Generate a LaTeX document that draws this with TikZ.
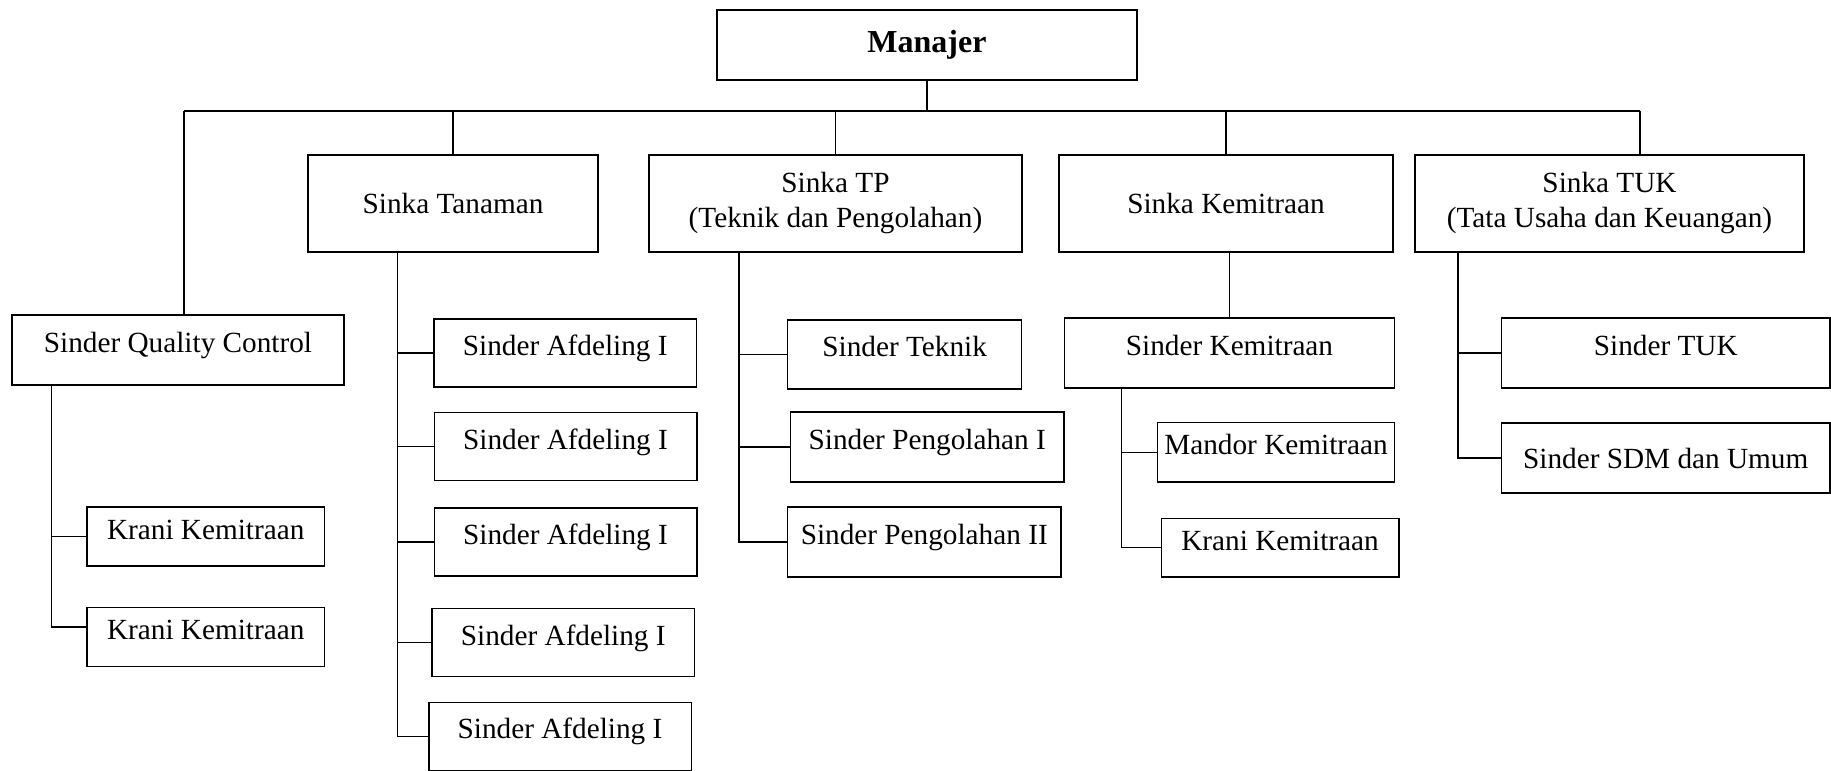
\documentclass[tikz,border=0pt]{standalone}
\usepackage{fontspec}
\setmainfont{Liberation Serif}
\usepackage{tikz}
\def\boxfont{\fontsize{11.7}{14}\selectfont}

\begin{document}
\begin{tikzpicture}[x=0.4pt, y=-0.4pt, line width=0.6pt,
  box/.style 2 args={draw, line width=0.6pt, inner sep=0pt, align=center,
    minimum width=#1*0.4pt, minimum height=#2*0.4pt, font=\boxfont},
  lift/.style={text height=8pt, text depth=6pt}]
\useasboundingbox (0,0) rectangle (1831,771);

% top level
\node[box={420}{70}, font=\fontsize{12.8}{14}\selectfont\bfseries] (man) at (927,45) {Manajer};

\node[box={290}{97}] (tanaman) at (453,203.5) {Sinka Tanaman};
\node[box={373}{97}] (tp) at (835.5,203.5) {Sinka TP\\(Teknik dan Pengolahan)};
\node[box={334}{97}] (kemitraan) at (1226,203.5) {Sinka Kemitraan};
\node[box={389}{97}] (tuk) at (1609.5,203.5) {Sinka TUK\\(Tata Usaha dan Keuangan)};
\node[box={332}{70}, lift] (qc) at (178,350) {Sinder Quality Control};

\coordinate (busl) at (184,111);
\coordinate (busr) at (1640,111);
\draw (busl) -- (busr);
\draw (man.south) -- (man.south |- busl);
\draw (busl) -- (busl |- qc.north);
\draw (tanaman.north) -- (tanaman.north |- busl);
\draw (tp.north) -- (tp.north |- busl);
\draw (kemitraan.north) -- (kemitraan.north |- busl);
\draw (busr) -- (busr |- tuk.north);

% spines
\coordinate (qspine) at (51.6,0);
\coordinate (tspine) at (397.5,0);
\coordinate (pspine) at (739,0);
\coordinate (kspine) at (1121.5,0);
\coordinate (uspine) at (1458,0);

% quality control
\node[box={237.5}{59}, lift] (kr1) at (205.75,536.5) {Krani Kemitraan};
\node[box={237.5}{59}, lift] (kr2) at (205.75,637) {Krani Kemitraan};
\draw (qc.south -| qspine) |- ([yshift=4pt]kr2.west);
\draw (kr1.west) -- (kr1.west -| qspine);

% tanaman
\foreach \i/\x/\y in {1/565.25/353, 2/565.5/446.7, 3/565.5/542, 4/563.3/642.7, 5/560/736.3}
  \node[box={262.5}{68}, lift] (afd\i) at (\x,\y) {Sinder Afdeling I};
\draw (tanaman.south -| tspine) |- (afd5.west);
\foreach \i in {1,...,4}
  \draw (afd\i.west) -- (afd\i.west -| tspine);

% teknik dan pengolahan
\node[box={234}{69}, lift] (teknik) at (904.6,354.5) {Sinder Teknik};
\node[box={273.6}{70}, lift] (peng1) at (927.2,446.8) {Sinder Pengolahan I};
\node[box={273.5}{70}, lift] (peng2) at (924.25,542) {Sinder Pengolahan II};
\draw (tp.south -| pspine) |- (peng2.west);
\draw (teknik.west) -- (teknik.west -| pspine);
\draw (peng1.west) -- (peng1.west -| pspine);

% kemitraan
\node[box={330}{70}, lift] (sdk) at (1229.5,353) {Sinder Kemitraan};
\node[box={237}{59.3}, lift] (mandor) at (1276,452.3) {Mandor Kemitraan};
\node[box={237.5}{58.7}, lift] (krk) at (1280,547.7) {Krani Kemitraan};
\draw (kemitraan.south -| sdk.north) -- (sdk.north);
\draw (sdk.south -| kspine) |- (krk.west);
\draw (mandor.west) -- (mandor.west -| kspine);

% tata usaha dan keuangan
\node[box={328.5}{70}, lift] (stuk) at (1665.75,353) {Sinder TUK};
\node[box={328.5}{70}] (sdm) at (1665.75,458) {Sinder SDM dan Umum};
\draw (tuk.south -| uspine) |- (sdm.west);
\draw (stuk.west) -- (stuk.west -| uspine);
\end{tikzpicture}
\end{document}
